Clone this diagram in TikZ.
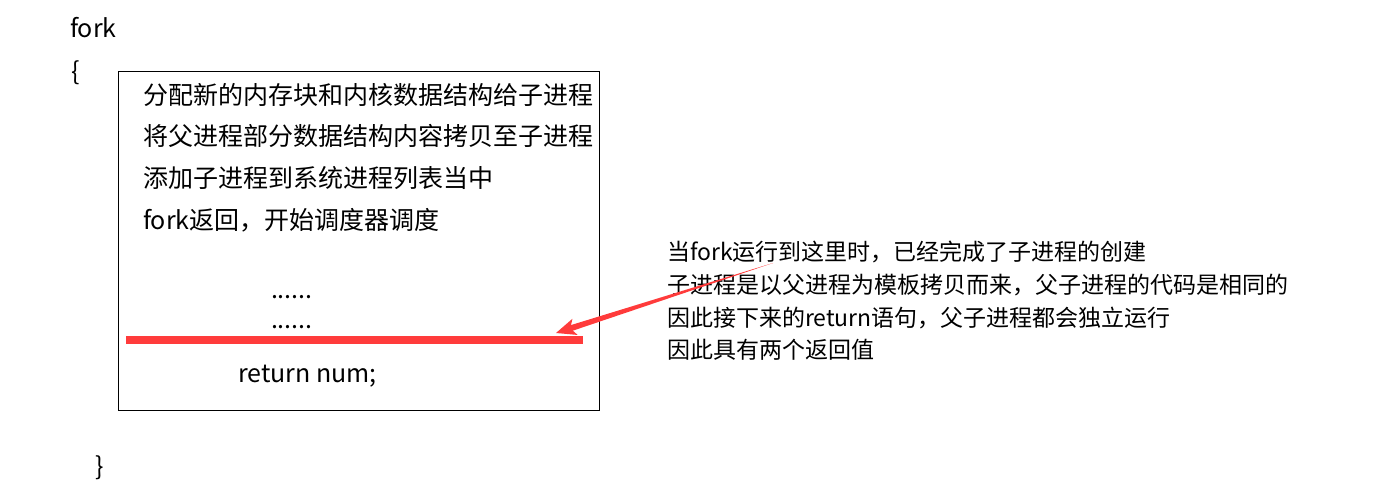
\documentclass[tikz,border=0pt]{standalone}
\usepackage{fontspec}
\setmainfont{Noto Sans CJK SC}
\usetikzlibrary{calc}
\definecolor{arrowred}{RGB}{255,59,59}
\tikzset{
  txt/.style={anchor=base west, inner sep=0pt, outer sep=0pt, font=\fontsize{25}{30}\selectfont},
  note/.style={anchor=base west, inner sep=0pt, outer sep=0pt, font=\fontsize{23}{28}\selectfont},
  codebox/.style={draw=black, line width=1pt},
  cutline/.style={draw=arrowred, line width=8pt},
}
\begin{document}
\begin{tikzpicture}[x=1pt, y=-1pt]
\useasboundingbox[fill=white] (0,0) rectangle (1376,490);
% header and braces
\node[txt] (fork) at (70,37) {fork};
\node[txt] (lbrace) at (71,80) {\{};
\node[txt] (rbrace) at (95,475) {\}};
% box
\draw[codebox] (118,71) rectangle (599,410);
\node[txt] (l1) at (143,104.5) {分配新的内存块和内核数据结构给子进程};
\node[txt] (l2) at (143,145.5) {将父进程部分数据结构内容拷贝至子进程};
\node[txt] (l3) at (143,187.5) {添加子进程到系统进程列表当中};
\node[txt] (l4) at (143,229.5) {fork返回，开始调度器调度};
\node[txt] (d1) at (271,298) {......};
\node[txt] (d2) at (271,328) {......};
\node[txt] (ret) at (238,382) {return num;};
% red cut line
\coordinate (cl) at (126,340);
\coordinate (cr) at (583,340);
\draw[cutline] (cl) -- (cr);
% note text
\node[note] (n1) at (667,260) {当fork运行到这里时，已经完成了子进程的创建};
\node[note] (n2) at (667,293) {子进程是以父进程为模板拷贝而来，父子进程的代码是相同的};
\node[note] (n3) at (667,326) {因此接下来的return语句，父子进程都会独立运行};
\node[note] (n4) at (667,358) {因此具有两个返回值};
% tapered arrow
\coordinate (as) at (773,263);
\coordinate (ae) at (556,333);
\coordinate (hb) at ($(ae)!15pt!(as)$);
\coordinate (hn) at ($(ae)!13pt!(as)$);
\coordinate (hk) at ($(ae)!20pt!(as)$);
\fill[arrowred] (as) -- ($(hn)!3pt!90:(as)$) -- ($(hn)!3pt!-90:(as)$) -- cycle;
\fill[arrowred] (ae) -- ($(hk)!8.5pt!90:(as)$) -- (hb) -- ($(hk)!8.5pt!-90:(as)$) -- cycle;
\end{tikzpicture}
\end{document}
